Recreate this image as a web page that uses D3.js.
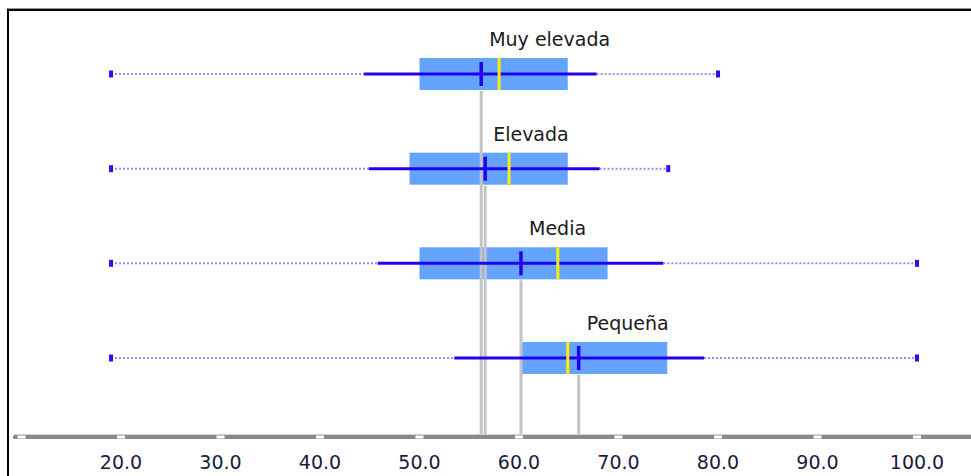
<!DOCTYPE html>
<html><head><meta charset="utf-8">
<script src="https://cdn.jsdelivr.net/npm/d3@7"></script>
<style>html,body{margin:0;padding:0;background:#fff;}svg{display:block;}</style>
</head><body>
<svg id="c" width="971" height="476"></svg>
<script>
const categories = ["Muy elevada", "Elevada", "Media", "Pequeña"];
const minVals     = [19.0, 19.0, 19.0, 19.0];
const whiskerLo   = [44.4, 44.9, 45.8, 53.5];
const q1Vals      = [50.0, 49.0, 50.0, 60.3];
const medianVals  = [58.0, 59.0, 63.9, 64.9];
const meanVals    = [56.2, 56.6, 60.2, 66.0];
const q3Vals      = [64.9, 64.9, 68.9, 74.9];
const whiskerHi   = [67.8, 68.1, 74.5, 78.6];
const maxVals     = [80.0, 75.0, 100.0, 100.0];
const tickVals    = [10, 20, 30, 40, 50, 60, 70, 80, 90, 100, 110];
const tickLabels  = ["", "20.0", "30.0", "40.0", "50.0", "60.0", "70.0", "80.0", "90.0", "100.0", ""];

const svg = d3.select("#c");
const x = d3.scaleLinear().domain([20, 100]).range([121, 917]);
const y = d3.scalePoint().domain(categories).range([74, 358]);
const boxH = 32;
const axisY = 437;

const data = categories.map((c, i) => ({
  c, min: minVals[i], wlo: whiskerLo[i], q1: q1Vals[i], med: medianVals[i],
  mean: meanVals[i], q3: q3Vals[i], whi: whiskerHi[i], max: maxVals[i]
}));

// frame
svg.append("line").attr("x1", 7).attr("x2", 971).attr("y1", 8.5).attr("y2", 8.5).attr("stroke", "#999").attr("stroke-width", 1);
svg.append("line").attr("x1", 7).attr("x2", 971).attr("y1", 10).attr("y2", 10).attr("stroke", "#000").attr("stroke-width", 2);
svg.append("line").attr("x1", 8).attr("x2", 8).attr("y1", 9).attr("y2", 476).attr("stroke", "#000").attr("stroke-width", 2);

// boxes
svg.append("g").selectAll("rect").data(data).join("rect")
  .attr("x", d => x(d.q1)).attr("width", d => x(d.q3) - x(d.q1))
  .attr("y", d => y(d.c) - boxH / 2).attr("height", boxH)
  .attr("fill", "#64a4ff");

// gray mean drop lines
svg.append("g").selectAll("line").data(data).join("line")
  .attr("x1", d => x(d.mean)).attr("x2", d => x(d.mean))
  .attr("y1", d => y(d.c) + boxH / 2 + 1).attr("y2", axisY - 2)
  .attr("stroke", "#c4c4c4").attr("stroke-width", 3);

// dotted outer whiskers
const g = svg.append("g");
g.selectAll("line.dl").data(data).join("line").attr("class", "dl")
  .attr("x1", d => x(d.min)).attr("x2", d => x(d.wlo))
  .attr("y1", d => y(d.c)).attr("y2", d => y(d.c))
  .attr("stroke", "#9a8cff").attr("stroke-width", 2).attr("stroke-dasharray", "2,2");
g.selectAll("line.dr").data(data).join("line").attr("class", "dr")
  .attr("x1", d => x(d.whi)).attr("x2", d => x(d.max))
  .attr("y1", d => y(d.c)).attr("y2", d => y(d.c))
  .attr("stroke", "#9a8cff").attr("stroke-width", 2).attr("stroke-dasharray", "2,2");
// end caps
g.selectAll("rect.cl").data(data).join("rect").attr("class", "cl")
  .attr("x", d => x(d.min) - 2).attr("width", 4).attr("y", d => y(d.c) - 3.5).attr("height", 7).attr("fill", "#2a10f0");
g.selectAll("rect.cr").data(data).join("rect").attr("class", "cr")
  .attr("x", d => x(d.max) - 2).attr("width", 4).attr("y", d => y(d.c) - 3.5).attr("height", 7).attr("fill", "#2a10f0");

// solid whisker
g.selectAll("line.w").data(data).join("line").attr("class", "w")
  .attr("x1", d => x(d.wlo)).attr("x2", d => x(d.whi))
  .attr("y1", d => y(d.c)).attr("y2", d => y(d.c))
  .attr("stroke", "#2200f0").attr("stroke-width", 3);

// median (yellow)
g.selectAll("line.md").data(data).join("line").attr("class", "md")
  .attr("x1", d => x(d.med)).attr("x2", d => x(d.med))
  .attr("y1", d => y(d.c) - boxH / 2).attr("y2", d => y(d.c) + boxH / 2)
  .attr("stroke", "#ffee00").attr("stroke-width", 3);

// mean (blue tick)
g.selectAll("line.mn").data(data).join("line").attr("class", "mn")
  .attr("x1", d => x(d.mean)).attr("x2", d => x(d.mean))
  .attr("y1", d => y(d.c) - 12).attr("y2", d => y(d.c) + 12)
  .attr("stroke", "#2200f0").attr("stroke-width", 3.5);

// labels
g.selectAll("text.lb").data(data).join("text").attr("class", "lb")
  .attr("x", d => x(d.mean) + 8).attr("y", d => y(d.c) - boxH / 2 - 12)
  .attr("font-family", "DejaVu Sans").attr("font-size", 19).attr("fill", "#1a1a1a")
  .text(d => d.c);

// axis bar
svg.append("rect").attr("x", 13).attr("y", axisY - 2).attr("width", 960).attr("height", 4)
  .attr("fill", "#8a8a8a").attr("rx", 1.5);
svg.append("line").attr("x1", 14).attr("x2", 971).attr("y1", axisY - 2.5).attr("y2", axisY - 2.5).attr("stroke", "#cfcfcf").attr("stroke-width", 1);
const ax = svg.append("g").attr("class", "axis");
ax.selectAll("rect").data(tickVals).join("rect")
  .attr("x", d => x(d) - 4).attr("y", axisY - 1.5).attr("width", 8).attr("height", 3)
  .attr("fill", "#fff");
ax.selectAll("text").data(tickVals).join("text")
  .attr("x", d => x(d)).attr("y", 469).attr("text-anchor", "middle")
  .attr("font-family", "DejaVu Sans").attr("font-size", 19).attr("fill", "#1a1a40")
  .text((d, i) => tickLabels[i]);
</script>
</body></html>
